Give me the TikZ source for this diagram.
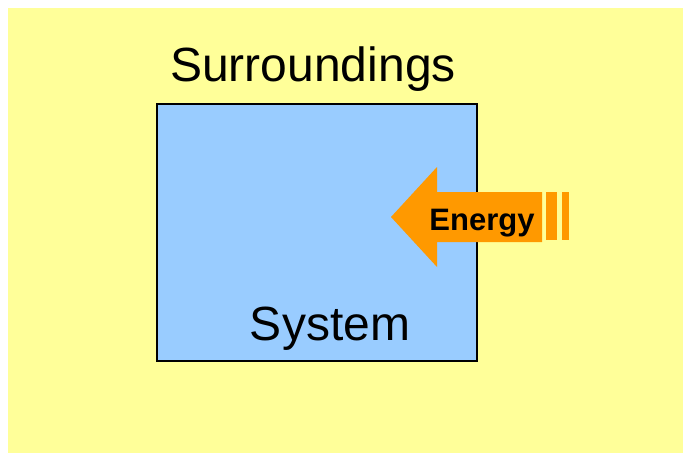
\documentclass[tikz,border=0pt]{standalone}
\usepackage{fontspec}
\setmainfont{Liberation Sans}
\definecolor{surr}{HTML}{FFFF99}
\definecolor{sys}{HTML}{99CCFF}
\definecolor{heat}{HTML}{FF9900}

\begin{document}
\begin{tikzpicture}[x=1pt, y=-1pt, every node/.style={inner sep=0pt, anchor=base}, big/.style={font=\fontsize{48}{56}\selectfont}, tag/.style={font=\fontsize{31}{36}\selectfont\bfseries}]
  \useasboundingbox (0,0) rectangle (683,453);
  \fill[surr] (8,8) rectangle (683,453);
  \draw[fill=sys, line width=1.5pt] (157,104) rectangle (477,361);
  \fill[heat] (391,217) -- (437,167) -- (437,192) -- (542,192) -- (542,242) -- (437,242) -- (437,267) -- cycle;
  \fill[heat] (545.7,192) rectangle (557.3,240);
  \fill[heat] (561.7,192) rectangle (569.3,240);
  \node[big] (surroundings) at (313,81.7) {Surroundings};
  \node[big] (system) at (330,340) {System};
  \node[tag] (energy) at (482,230) {Energy};
\end{tikzpicture}
\end{document}
